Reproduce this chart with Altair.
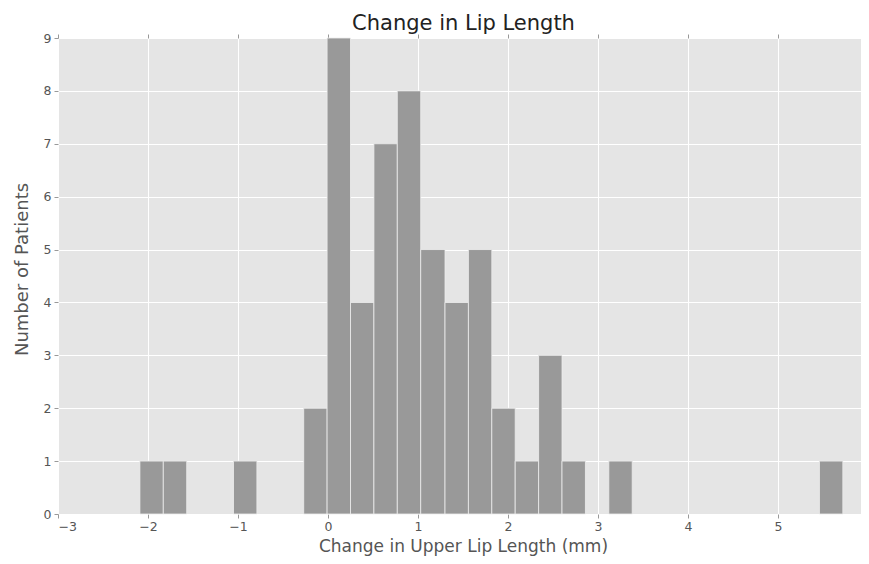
import altair as alt
import pandas as pd

# Histogram bins (30 bins of ~0.26 mm, empty bins omitted)
bin_left = [-2.09, -1.83, -1.05, -0.27, -0.01, 0.25, 0.51, 0.77, 1.03, 1.30, 1.56, 1.82, 2.08, 2.34, 2.60, 3.12, 5.46]
bin_right = [-1.83, -1.57, -0.79, -0.01, 0.25, 0.51, 0.77, 1.03, 1.30, 1.56, 1.82, 2.08, 2.34, 2.60, 2.86, 3.38, 5.72]
counts = [1, 1, 1, 2, 9, 4, 7, 8, 5, 4, 5, 2, 1, 3, 1, 1, 1]

x_ticks = [-3, -2, -1, 0, 1, 2, 3, 4, 5, 6]
y_ticks = [0, 1, 2, 3, 4, 5, 6, 7, 8, 9]

df = pd.DataFrame({"x0": bin_left, "x1": bin_right, "n": counts})

FONT = "DejaVu Sans"
minus = "replace(datum.label, '-', '\u2212')"

# the reference is cut at the right edge just past x = 6
xscale = alt.Scale(domain=[-3, 5.922], nice=False, zero=False)
yscale = alt.Scale(domain=[0, 9], nice=False)

bars = alt.Chart(df).mark_bar(color="#999999", stroke="#EEEEEE", strokeWidth=0.8).encode(
    x=alt.X("x0:Q", scale=xscale,
            axis=alt.Axis(values=x_ticks, title="Change in Upper Lip Length (mm)", labelExpr=minus,
                          orient="bottom", titleX=405, titleY=37, titleBaseline="alphabetic")),
    x2="x1:Q",
    y=alt.Y("n:Q", scale=yscale,
            axis=alt.Axis(values=y_ticks, title="Number of Patients", titleY=231)),
    y2=alt.datum(0),
)

top = alt.Chart(df).mark_bar(opacity=0).encode(
    x=alt.X("x0:Q", scale=xscale,
            axis=alt.Axis(values=x_ticks, orient="top", labels=False, title=None, grid=False)),
    x2="x1:Q",
    y=alt.Y("n:Q", scale=yscale,
            axis=alt.Axis(values=y_ticks, title="Number of Patients", titleY=231)),
    y2=alt.datum(0),
)

chart = alt.layer(bars, top).resolve_axis(x="independent").properties(
    width=803,
    height=476,
    padding={"left": 50, "top": 30, "right": 0, "bottom": 42},
    autosize=alt.AutoSizeParams(type="none"),
    title=alt.TitleParams("Change in Lip Length", font=FONT, fontSize=21, fontWeight="normal",
                          color="#222222", offset=-2, anchor="middle", frame="group", dx=4),
).configure_view(
    fill="#E5E5E5", stroke=None
).configure_axis(
    grid=True, gridColor="#FFFFFF", gridWidth=1,
    domain=False,
    tickColor="#999999", tickSize=4, tickWidth=1,
    labelColor="#555555", labelFont=FONT, labelFontSize=12.5, labelPadding=3,
    titleColor="#555555", titleFont=FONT, titleFontSize=17, titleFontWeight="normal",
).configure_axisX(
    labelPadding=2
).configure_axisY(
    titlePadding=12, titleFontSize=18
)

chart.save("out.html", embed_options={"renderer": "svg", "actions": False})
